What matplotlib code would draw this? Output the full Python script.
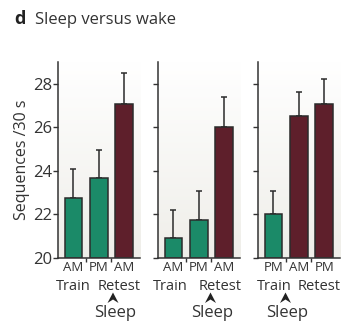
import numpy as np
import matplotlib.pyplot as plt
from matplotlib.patches import Polygon

plt.rcParams['font.family'] = ['Open Sans', 'DejaVu Sans']

# sequences per 30 s, one list per comparison
session_labels = [['AM', 'PM', 'AM'], ['AM', 'PM', 'AM'], ['PM', 'AM', 'PM']]
means = [[22.75, 23.65, 27.05], [20.9, 21.75, 26.0], [22.0, 26.5, 27.05]]
err_tops = [[24.1, 24.95, 28.5], [22.2, 23.05, 27.4], [23.05, 27.6, 28.2]]
retest = [[False, False, True], [False, False, True], [False, True, True]]

green = '#1b8a68'
maroon = '#5e1f2b'
ink = '#2b2b2b'

W, H = 342, 325
fig = plt.figure(figsize=(W / 100, H / 100), dpi=100)
fig.patch.set_facecolor('white')


def px_axes(x0, y0, x1, y1):
    return fig.add_axes([x0 / W, 1 - y1 / H, (x1 - x0) / W, (y1 - y0) / H])


panel_x = [(57.5, 140), (157.5, 240), (257.5, 340)]
grad = np.linspace(0, 1, 256).reshape(-1, 1)
top_c = np.array([0xff, 0xff, 0xff]) / 255
bot_c = np.array([0xef, 0xee, 0xe9]) / 255
grad_img = top_c + grad * (bot_c - top_c)
grad_img = grad_img.reshape(256, 1, 3)

xlim = (-0.62, 2.62)
for i, (x0, x1) in enumerate(panel_x):
    ax = px_axes(x0, 62, x1, 257.7)
    ax.set_xlim(*xlim)
    ax.set_ylim(20, 29)
    ax.imshow(grad_img, extent=(xlim[0], xlim[1], 20, 29), aspect='auto',
              zorder=0, origin='upper')
    ax.set_facecolor('white')
    xs = np.arange(3)
    m = np.array(means[i])
    cols = [maroon if r else green for r in retest[i]]
    ax.errorbar(xs, m, yerr=[np.zeros(3), np.array(err_tops[i]) - m],
                fmt='none', ecolor=ink, elinewidth=1.1, capsize=2.4,
                capthick=1.1, zorder=2)
    ax.bar(xs, m - 20, bottom=20, width=0.69, color=cols, edgecolor=ink,
           linewidth=1.1, zorder=3)
    for s in ['top', 'right']:
        ax.spines[s].set_visible(False)
    for s in ['left', 'bottom']:
        ax.spines[s].set_linewidth(1.1)
        ax.spines[s].set_color('#333333')
        ax.spines[s].set_zorder(4)
    ax.set_yticks([20, 22, 24, 26, 28])
    ax.tick_params(axis='y', length=3.5, width=1.0, color='#333333',
                   labelsize=12, labelcolor='#333333', pad=0.5)
    if i > 0:
        ax.set_yticklabels([])
    ax.set_xticks(xs)
    ax.set_xticklabels(session_labels[i])
    ax.set_xticks([0.5, 1.5], minor=True)
    ax.tick_params(axis='x', which='major', length=0, labelsize=9.5,
                   labelcolor='#333333', pad=2.5)
    ax.tick_params(axis='x', which='minor', length=3, width=1.0,
                   color='#333333')
    if i == 0:
        ax.set_ylabel('Sequences /30 s', fontsize=11.5, color='#333333',
                      labelpad=2)

# Train / Retest labels and the sleep marker under each panel
train_x = [73.5, 170, 274]
retest_x = [119, 220.5, 318.7]
sleep_x = [113, 210.5, 285.5]
for tx, rx, sx in zip(train_x, retest_x, sleep_x):
    fig.text(tx / W, 1 - 290 / H, 'Train', ha='center', va='baseline',
             fontsize=10.5, color='#333333')
    fig.text(rx / W, 1 - 290 / H, 'Retest', ha='center', va='baseline',
             fontsize=10.5, color='#333333')
    arrow = [(sx, 292.5), (sx + 5.5, 303), (sx, 299.5), (sx - 5.5, 303)]
    fig.patches.append(Polygon([(x / W, 1 - y / H) for x, y in arrow],
                               closed=True, transform=fig.transFigure,
                               facecolor='#222222', edgecolor='none'))
    fig.text((sx + 2) / W, 1 - 317 / H, 'Sleep', ha='center', va='baseline',
             fontsize=12, color='#333333')

fig.text(14 / W, 1 - 24 / H, 'd', fontsize=13, fontweight='bold',
         va='baseline', color='#222222')
fig.text(35 / W, 1 - 24 / H, 'Sleep versus wake', fontsize=12,
         va='baseline', color='#333333')

fig.savefig('out.png', dpi=100)
